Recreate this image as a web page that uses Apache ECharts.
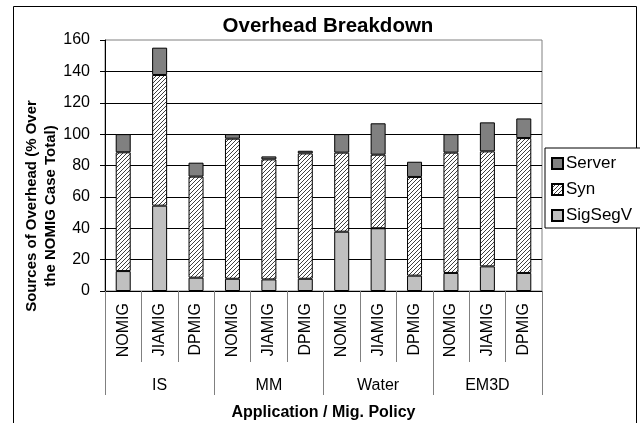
<!DOCTYPE html>
<html>
<head>
<meta charset="utf-8">
<script src="https://cdn.jsdelivr.net/npm/echarts@6/dist/echarts.min.js"></script>
<style>
  html, body { margin: 0; padding: 0; background: #fff; }
  #chart { width: 640px; height: 423px; }
</style>
</head>
<body>
<div id="chart"></div>
<script>
// categories
var policies = ['NOMIG', 'JIAMIG', 'DPMIG', 'NOMIG', 'JIAMIG', 'DPMIG', 'NOMIG', 'JIAMIG', 'DPMIG', 'NOMIG', 'JIAMIG', 'DPMIG'];
var apps = ['IS', 'MM', 'Water', 'EM3D'];

// stacked components (% over NOMIG total)
var sigSegV = [12.7, 54.4, 8.5, 7.8, 7.4, 7.8, 37.8, 40.0, 9.8, 11.5, 15.7, 11.5];
var syn     = [75.7, 83.3, 64.4, 89.3, 76.5, 79.9, 50.4, 46.9, 62.9, 76.7, 73.3, 86.0];
var server  = [11.6, 17.4, 8.9, 2.9, 1.9, 1.7, 11.8, 20.0, 9.7, 11.8, 18.5, 12.5];

var yTicks = [0, 20, 40, 60, 80, 100, 120, 140, 160];

// diagonal hatch for Syn
function hatch() {
  var c = document.createElement('canvas');
  c.width = 4; c.height = 4;
  var ctx = c.getContext('2d');
  ctx.fillStyle = '#fff';
  ctx.fillRect(0, 0, 4, 4);
  ctx.fillStyle = '#404040';
  for (var i = 0; i < 4; i++) ctx.fillRect(i, 3 - i, 1, 1);
  return c;
}

var font = 'Liberation Sans, Arial, sans-serif';

var chart = echarts.init(document.getElementById('chart'));
chart.setOption({
  backgroundColor: '#fff',
  animation: false,
  textStyle: { fontFamily: font, color: '#000' },
  title: {
    text: 'Overhead Breakdown',
    left: 323, top: 11,
    textAlign: 'center',
    textStyle: { fontSize: 20.5, fontWeight: 'bold', color: '#000', fontFamily: font }
  },
  legend: {
    orient: 'vertical',
    left: 545, top: 148,
    data: ['Server', 'Syn', 'SigSegV'],
    icon: 'rect',
    itemWidth: 11, itemHeight: 11,
    itemGap: 9,
    padding: [7, 12, 4, 6],
    borderColor: '#000', borderWidth: 1,
    backgroundColor: '#fff',
    textStyle: { fontSize: 17, color: '#000', fontFamily: font, padding: [0, 0, 0, -2] }
  },
  graphic: [
    {
      type: 'rect',
      shape: { x: 13.5, y: 6.5, width: 623, height: 420 },
      style: { fill: null, stroke: '#000', lineWidth: 1 },
      z: -10
    },
    {
      type: 'text',
      x: 41, y: 206,
      rotation: Math.PI / 2,
      style: {
        text: 'Sources of Overhead (% Over\nthe NOMIG Case Total)',
        fontSize: 15, fontWeight: 'bold', fontFamily: font,
        fill: '#000', align: 'center', verticalAlign: 'middle', lineHeight: 19
      }
    }
  ],
  grid: {
    left: 105, right: 98, top: 40, bottom: 132,
    outerBoundsMode: 'none',
    show: true, borderColor: '#808080', borderWidth: 1
  },
  xAxis: [
    {
      type: 'category',
      data: policies,
      axisLine: { show: true, lineStyle: { color: '#000' } },
      axisTick: { show: true, interval: 0, length: 71, lineStyle: { color: '#808080' } },
      axisLabel: { interval: 0, rotate: 90, margin: 12, fontSize: 16, color: '#000', fontFamily: font }
    },
    {
      type: 'category',
      data: apps,
      position: 'bottom',
      axisLine: { show: false },
      axisTick: { show: true, interval: 0, length: 104, lineStyle: { color: '#808080' } },
      axisLabel: { interval: 0, margin: 87, fontSize: 16, color: '#000', fontFamily: font },
      name: 'Application / Mig. Policy',
      nameLocation: 'middle',
      nameGap: 114,
      nameTextStyle: { fontSize: 16, fontWeight: 'bold', color: '#000', fontFamily: font }
    }
  ],
  yAxis: {
    type: 'value',
    min: yTicks[0], max: yTicks[yTicks.length - 1], interval: 20,
    axisLine: { show: true, lineStyle: { color: '#000' } },
    axisTick: { show: true, length: 5, lineStyle: { color: '#000' } },
    axisLabel: { fontSize: 16, color: '#000', margin: 15, fontFamily: font },
    splitLine: { show: true, showMaxLine: false, lineStyle: { color: '#000', width: 1 } }
  },
  series: [
    {
      name: 'SigSegV', type: 'bar', stack: 'all', barWidth: 15,
      itemStyle: { color: '#c0c0c0', borderColor: '#000', borderWidth: 1 },
      data: sigSegV
    },
    {
      name: 'Syn', type: 'bar', stack: 'all', barWidth: 15,
      itemStyle: { color: { image: hatch(), repeat: 'repeat' }, borderColor: '#000', borderWidth: 1 },
      data: syn
    },
    {
      name: 'Server', type: 'bar', stack: 'all', barWidth: 15,
      itemStyle: { color: '#808080', borderColor: '#000', borderWidth: 1 },
      data: server
    }
  ]
});
</script>
</body>
</html>
